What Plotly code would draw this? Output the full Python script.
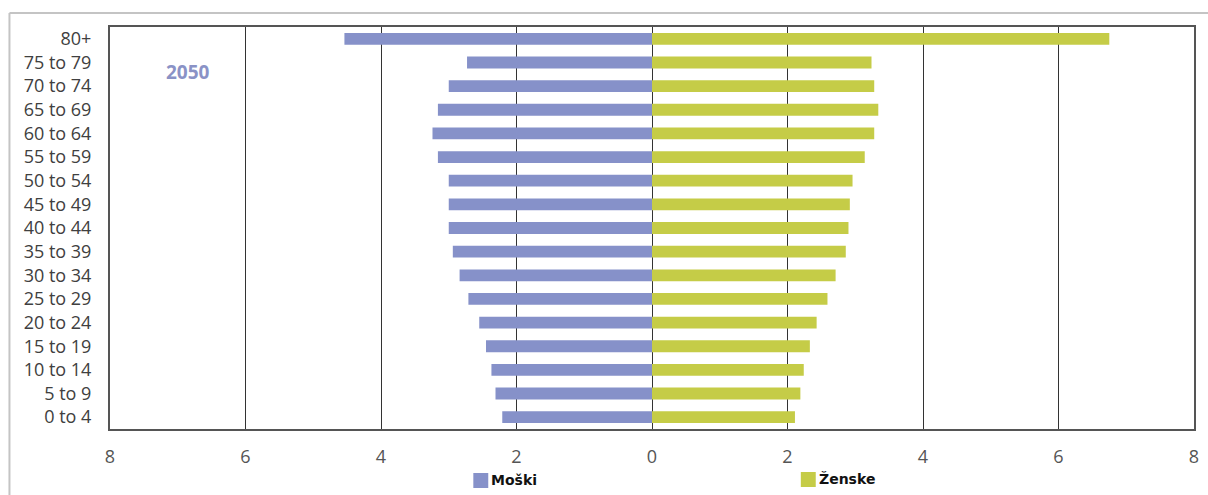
import plotly.graph_objects as go

# Age groups, bottom to top
age_groups = ["0 to 4", "5 to 9", "10 to 14", "15 to 19", "20 to 24", "25 to 29",
              "30 to 34", "35 to 39", "40 to 44", "45 to 49", "50 to 54", "55 to 59",
              "60 to 64", "65 to 69", "70 to 74", "75 to 79", "80+"]

# Share of population (%) in 2050
moski = [2.21, 2.31, 2.37, 2.45, 2.55, 2.71, 2.84, 2.94, 3.00, 3.00, 3.00, 3.16,
         3.24, 3.16, 3.00, 2.73, 4.54]
zenske = [2.11, 2.19, 2.24, 2.33, 2.43, 2.59, 2.71, 2.86, 2.90, 2.92, 2.96, 3.14,
          3.28, 3.34, 3.28, 3.24, 6.75]

tick_vals = [-8, -6, -4, -2, 0, 2, 4, 6, 8]
tick_text = ["8", "6", "4", "2", "0", "2", "4", "6", "8"]

MALE = "#8691C9"
FEMALE = "#C5CC47"

W, H = 1208, 495
ML, MR, MT, MB = 110, 9, 27, 66
PW, PH = W - ML - MR, H - MT - MB


def px(x):
    return (x - ML) / PW


def py(y):
    return (H - MB - y) / PH


fig = go.Figure()
fig.add_trace(go.Bar(y=age_groups, x=[-v for v in moski], orientation="h",
                     name="Moški", marker=dict(color=MALE, line=dict(width=0)),
                     showlegend=False))
fig.add_trace(go.Bar(y=age_groups, x=zenske, orientation="h",
                     name="Ženske", marker=dict(color=FEMALE, line=dict(width=0)),
                     showlegend=False))

shapes = [
    # light outer frame
    dict(type="line", xref="paper", yref="paper", x0=px(9), x1=px(1230), y0=py(13), y1=py(13),
         line=dict(color="#C4C4C4", width=2)),
    dict(type="line", xref="paper", yref="paper", x0=px(9), x1=px(9), y0=py(13), y1=py(520),
         line=dict(color="#C4C4C4", width=2)),
    # legend swatches
    dict(type="rect", xref="paper", yref="paper", x0=px(475), x1=px(490), y0=py(473), y1=py(488),
         fillcolor=MALE, line=dict(width=0)),
    dict(type="rect", xref="paper", yref="paper", x0=px(804), x1=px(819), y0=py(472), y1=py(487),
         fillcolor=FEMALE, line=dict(width=0)),
]

annotations = [
    dict(text="<b>2050</b>", xref="paper", yref="paper", x=px(188), y=py(72),
         xanchor="center", yanchor="middle", showarrow=False,
         font=dict(family="Open Sans", size=19, color="#8A92C6")),
    dict(text="<b>Moški</b>", xref="paper", yref="paper", x=px(491), y=py(480),
         xanchor="left", yanchor="middle", showarrow=False,
         font=dict(family="DejaVu Sans", size=14, color="#111111")),
    dict(text="<b>Ženske</b>", xref="paper", yref="paper", x=px(820), y=py(479),
         xanchor="left", yanchor="middle", showarrow=False,
         font=dict(family="DejaVu Sans", size=14, color="#111111")),
]

fig.update_layout(
    width=W, height=H,
    margin=dict(l=ML, r=MR, t=MT, b=MB, pad=0),
    paper_bgcolor="white", plot_bgcolor="white",
    barmode="relative", bargap=0.5,
    shapes=shapes, annotations=annotations,
    showlegend=False,
    font=dict(family="Open Sans", color="#404040"),
)
fig.update_xaxes(
    range=[-8, 8], tickvals=tick_vals, ticktext=tick_text,
    showgrid=True, gridcolor="#333333", gridwidth=1,
    zeroline=True, zerolinecolor="#333333", zerolinewidth=1,
    showline=True, mirror=True, linecolor="#555555", linewidth=2,
    ticks="", ticklabelstandoff=10,
    tickfont=dict(family="Open Sans", size=18, color="#555555"),
)
fig.update_yaxes(
    categoryorder="array", categoryarray=age_groups, range=[-0.5, 16.5],
    showgrid=False, zeroline=False,
    showline=True, mirror=True, linecolor="#555555", linewidth=2,
    ticks="", ticklabelstandoff=13,
    tickfont=dict(family="Open Sans", size=18, color="#404040"),
)

fig.write_html("out.html")
